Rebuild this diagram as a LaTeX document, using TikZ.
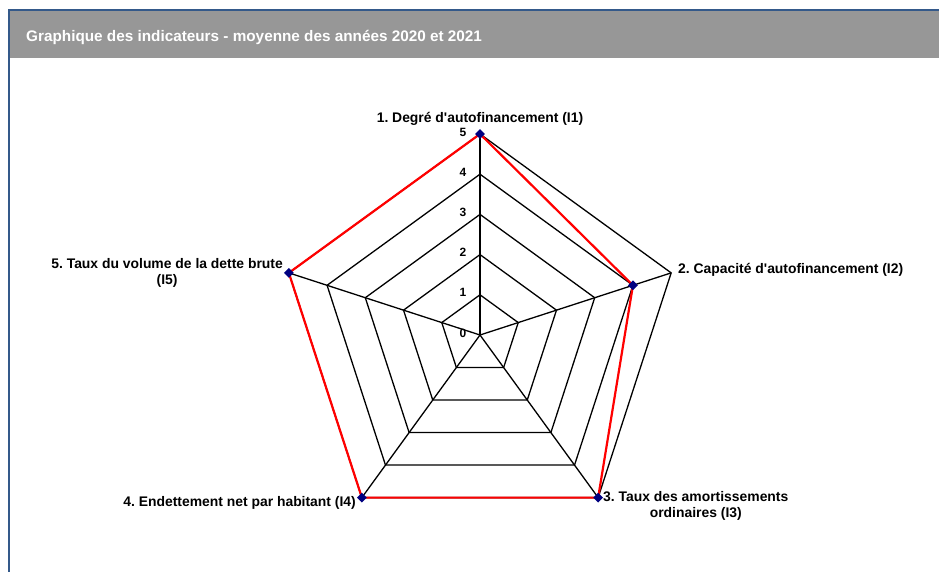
\documentclass[tikz,border=0pt]{standalone}
\usepackage{fontspec}
\setmainfont{Liberation Sans}[Ligatures=TeXOff]
\usetikzlibrary{shapes.geometric}
\definecolor{cadrebleu}{HTML}{34598A}
\definecolor{titregris}{HTML}{979797}
\definecolor{marine}{HTML}{000080}
\frenchspacing
\begin{document}
\begin{tikzpicture}[x=1pt,y=1pt,
    grille/.style={black, line width=1.3pt, line join=miter},
    serie/.style={red, line width=2.2pt, line join=miter},
    point/.style={diamond, fill=marine, inner sep=0pt, minimum size=10pt},
    axelabel/.style={font=\bfseries\fontsize{13.9}{16}\selectfont, align=center, inner sep=1pt},
    echelle/.style={font=\bfseries\fontsize{12}{13}\selectfont, inner sep=1pt}]
  \useasboundingbox (0,0) rectangle (939,-572);
  \fill[white] (0,0) rectangle (939,-572);
  % cadre et titre
  \fill[titregris] (9,-11) rectangle (939,-58);
  \draw[cadrebleu, line width=2pt] (9,-572) -- (9,-10) -- (939,-10);
  \node[anchor=west, text=white, inner sep=0pt, font=\bfseries\fontsize{15.3}{17}\selectfont] (titre) at (26,-37) {Graphique des indicateurs - moyenne des ann\'ees 2020 et 2021};
  % radar
  \begin{scope}[shift={(480,-335)}]
    \foreach \k in {1,...,5}
      \draw[grille] (90:\k*40.2) -- (18:\k*40.2) -- (-54:\k*40.2) -- (-126:\k*40.2) -- (162:\k*40.2) -- cycle;
    \coordinate (O) at (0,0);
    \foreach \a/\i in {90/1, 18/2, -54/3, -126/4, 162/5}
      \draw[grille] (O) -- (\a:201) coordinate (I\i);
    \foreach \k in {0,...,5}
      \node[echelle] (g\k) at (-17,\k*40.2+2) {\k};
    % serie
    \coordinate (v1) at (90:201);
    \coordinate (v2) at (18:160.8);
    \coordinate (v3) at (-54:201);
    \coordinate (v4) at (-126:201);
    \coordinate (v5) at (162:201);
    \draw[serie] (v1) -- (v2) -- (v3) -- (v4) -- (v5) -- cycle;
    \foreach \i in {1,...,5}
      \node[point] (p\i) at (v\i) {};
  \end{scope}
  % libelles
  \node[axelabel, anchor=south] (l1) at (480,-127) {1. Degr\'e d'autofinancement (I1)};
  \node[axelabel, anchor=west] (l2) at (677,-270) {2. Capacit\'e d'autofinancement (I2)};
  \node[axelabel, anchor=west] (l3) at (602,-506) {3. Taux des amortissements\\ordinaires (I3)};
  \node[axelabel, anchor=east] (l4) at (357,-503) {4. Endettement net par habitant (I4)};
  \node[axelabel, anchor=east] (l5) at (284,-273) {5. Taux du volume de la dette brute\\(I5)};
\end{tikzpicture}
\end{document}
